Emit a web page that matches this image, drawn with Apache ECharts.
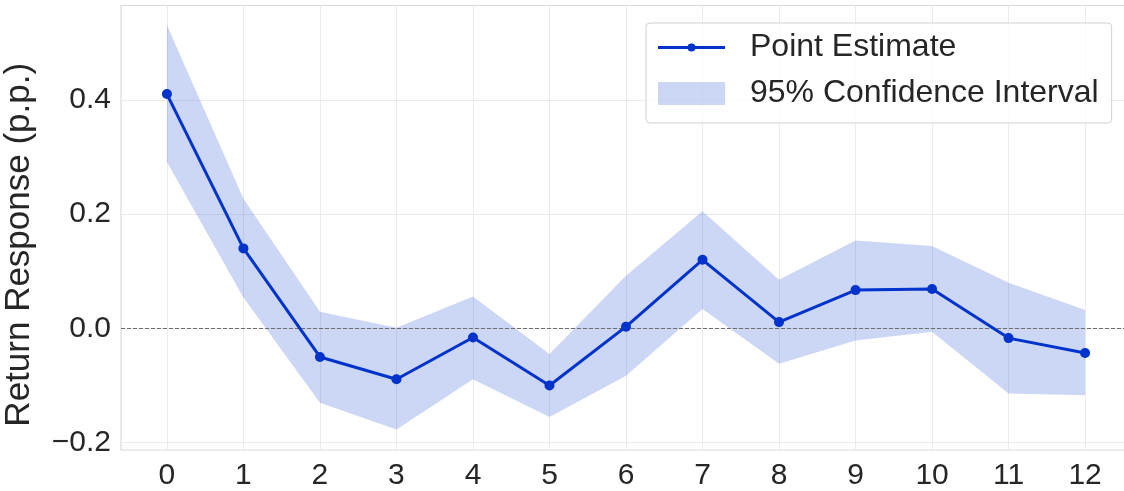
<!DOCTYPE html>
<html>
<head>
<meta charset="utf-8">
<script src="https://cdn.jsdelivr.net/npm/echarts@6/dist/echarts.min.js"></script>
<style>
  html, body { margin: 0; padding: 0; background: #fff; }
  #chart { width: 1124px; height: 491px; }
</style>
</head>
<body>
<div id="chart"></div>
<script>
// horizons (x) and estimates
const horizons = [0, 1, 2, 3, 4, 5, 6, 7, 8, 9, 10, 11, 12];
const pointEstimate = [0.410, 0.140, -0.050, -0.089, -0.016, -0.100, 0.003, 0.120, 0.011, 0.067, 0.069, -0.017, -0.043];
const ciLower = [0.291, 0.054, -0.130, -0.177, -0.089, -0.155, -0.083, 0.034, -0.062, -0.021, -0.006, -0.114, -0.117];
const ciUpper = [0.531, 0.227, 0.029, 0.001, 0.056, -0.045, 0.092, 0.205, 0.085, 0.154, 0.144, 0.080, 0.032];
const yTicks = [-0.2, 0, 0.2, 0.4];

const FONT = 'Liberation Sans, Arial, sans-serif';
const LINE_COLOR = '#0033cc';
const BAND_COLOR = 'rgba(0, 51, 204, 0.2)';

const fmtY = v => (v < 0 ? '\u2212' : '') + Math.abs(v).toFixed(1);

// confidence band: one polygon, upper edge forward then lower edge back
function renderBand(params, api) {
    if (params.dataIndex !== 0) return null;
    const pts = [];
    horizons.forEach((h, i) => pts.push(api.coord([h, ciUpper[i]])));
    for (let i = horizons.length - 1; i >= 0; i--) pts.push(api.coord([horizons[i], ciLower[i]]));
    return {
        type: 'polygon',
        shape: { points: pts },
        style: { fill: BAND_COLOR }
    };
}

const chart = echarts.init(document.getElementById('chart'));

chart.setOption({
    animation: false,
    grid: {
        left: 121,
        top: 5.5,
        bottom: 41,
        right: -7,
        show: true,
        borderColor: '#d9d9d9',
        borderWidth: 1.2,
        outerBoundsMode: 'none'
    },
    legend: {
        orient: 'vertical',
        left: 646,
        top: 23,
        padding: [8.5, 13, 13.5, 12],
        itemWidth: 67,
        itemHeight: 23,
        itemGap: 14,
        backgroundColor: 'rgba(255,255,255,0.8)',
        borderColor: '#d0d0d0',
        borderWidth: 1,
        borderRadius: 4,
        itemStyle: { borderWidth: 0 },
        textStyle: { fontSize: 32, color: '#262626', fontFamily: FONT, padding: [0, 0, 0, 20] },
        data: [
            {
                name: 'Point Estimate',
                icon: 'path://M0,10 L67,10 L67,13 L0,13 Z M29.5,11.5 A4,4 0 1 1 37.5,11.5 A4,4 0 1 1 29.5,11.5 Z',
                itemStyle: { color: LINE_COLOR, borderWidth: 0 }
            },
            {
                name: '95% Confidence Interval',
                icon: 'rect',
                itemStyle: { color: BAND_COLOR, borderWidth: 0 }
            }
        ]
    },
    xAxis: {
        type: 'value',
        min: -0.6,
        max: 12.6,
        axisLine: { show: false },
        axisTick: { show: false, customValues: horizons },
        axisLabel: {
            customValues: horizons,
            fontSize: 30,
            color: '#262626',
            fontFamily: FONT,
            margin: 11
        },
        splitLine: { show: true, lineStyle: { color: '#ebebeb', width: 1 } }
    },
    yAxis: {
        type: 'value',
        min: -0.2128,
        max: 0.565,
        name: 'Return Response (p.p.)',
        nameLocation: 'middle',
        nameGap: 84,
        nameTextStyle: { fontSize: 35, color: '#262626', fontFamily: FONT, padding: [0, 34, 0, 0] },
        axisLine: { show: false },
        axisTick: { show: false, customValues: yTicks },
        axisLabel: {
            customValues: yTicks,
            formatter: fmtY,
            fontSize: 30,
            color: '#262626',
            fontFamily: FONT,
            margin: 10
        },
        splitLine: { show: true, lineStyle: { color: '#ebebeb', width: 1 } }
    },
    series: [
        {
            name: '95% Confidence Interval',
            type: 'custom',
            silent: true,
            color: BAND_COLOR,
            itemStyle: { color: BAND_COLOR },
            renderItem: renderBand,
            encode: { x: 0, y: [1, 2] },
            data: horizons.map((h, i) => [h, ciLower[i], ciUpper[i]])
        },
        {
            name: 'Point Estimate',
            type: 'line',
            symbol: 'circle',
            symbolSize: 10,
            color: LINE_COLOR,
            lineStyle: { width: 3, color: LINE_COLOR },
            itemStyle: { color: LINE_COLOR },
            z: 5,
            markLine: {
                silent: true,
                symbol: ['none', 'none'],
                label: { show: false },
                lineStyle: { type: [4, 2], color: '#6e6e6e', width: 1 },
                data: [{ yAxis: 0 }]
            },
            data: horizons.map((h, i) => [h, pointEstimate[i]])
        }
    ]
});
</script>
</body>
</html>
